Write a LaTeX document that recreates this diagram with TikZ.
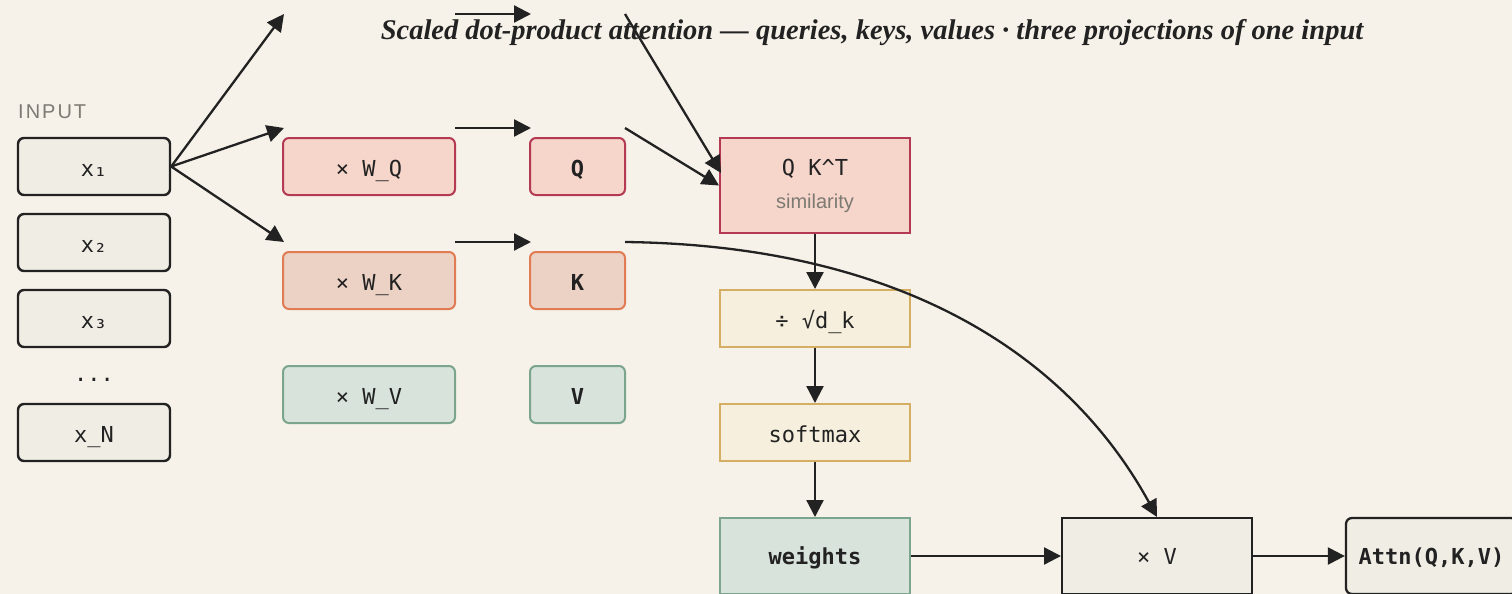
\documentclass[tikz,border=0pt]{standalone}
\usepackage{fontspec}
\setmainfont{Liberation Serif}
\setsansfont{Liberation Sans}
\setmonofont{DejaVu Sans Mono}
\usetikzlibrary{arrows.meta}
\definecolor{bg}{HTML}{F6F2E9}
\definecolor{ink}{HTML}{222222}
\definecolor{grey}{HTML}{7C7A72}
\definecolor{plain}{HTML}{F0EDE5}
\definecolor{qfill}{HTML}{F6D5CB}
\definecolor{qline}{HTML}{B33A52}
\definecolor{kfill}{HTML}{ECD2C4}
\definecolor{kline}{HTML}{E07B54}
\definecolor{vfill}{HTML}{D8E3DC}
\definecolor{vline}{HTML}{7BA58C}
\definecolor{yfill}{HTML}{F6EFDD}
\definecolor{yline}{HTML}{D4AE62}
\tikzset{
  box/.style={draw, line width=2pt, inner sep=0pt, align=center, text=ink, font=\ttfamily\fontsize{22}{24}\selectfont, text height=21pt, text depth=0.4pt},
  lowbox/.style={box, text height=17pt, text depth=1pt},
  inbox/.style={box, draw=ink, fill=plain, rounded corners=6pt, minimum width=152pt, minimum height=57pt, line width=2.4pt},
  projq/.style={box, draw=qline, fill=qfill, rounded corners=6pt, minimum height=57pt},
  projk/.style={box, draw=kline, fill=kfill, rounded corners=6pt, minimum height=57pt},
  projv/.style={box, draw=vline, fill=vfill, rounded corners=6pt, minimum height=57pt},
  opbox/.style={box, draw=yline, fill=yfill, minimum width=190pt, minimum height=57pt},
  bold/.style={font=\ttfamily\bfseries\fontsize{22}{24}\selectfont},
  arr/.style={draw=ink, line width=2.3pt, -{Triangle[length=17pt,width=17pt]}},
}
\begin{document}
\begin{tikzpicture}[x=1pt,y=-1pt]
\fill[bg] (0,0) rectangle (1512,594);
\useasboundingbox (0,0) rectangle (1512,594);

\node[font=\bfseries\itshape\fontsize{28.5}{32}\selectfont, text=ink] (title) at (872,32.5) {Scaled dot-product attention — queries, keys, values · three projections of one input};

\node[anchor=west, text=grey, font=\sffamily\fontsize{20}{24}\selectfont, inner sep=0pt] (inlabel) at (18,112) {\addfontfeature{LetterSpace=10}INPUT};

\node[inbox] (x1) at (94,166.5) {x₁};
\node[inbox] (x2) at (94,242.5) {x₂};
\node[inbox] (x3) at (94,318.5) {x₃};
\node[text=ink, font=\ttfamily\fontsize{22}{24}\selectfont] (dots) at (94,380) {...};
\node[inbox] (xN) at (94,432.5) {x\_N};

\node[projq, minimum width=172pt] (wq) at (369,166.5) {× W\_Q};
\node[projk, minimum width=172pt] (wk) at (369,280.5) {× W\_K};
\node[projv, minimum width=172pt] (wv) at (369,394.5) {× W\_V};

\node[projq, minimum width=95pt, bold] (q) at (577.5,166.5) {Q};
\node[projk, minimum width=95pt, bold] (k) at (577.5,280.5) {K};
\node[projv, minimum width=95pt, bold] (v) at (577.5,394.5) {V};

\node[box, draw=qline, fill=qfill, minimum width=190pt, minimum height=95pt] (qk) at (815,185.5) {};
\node[text=ink, font=\ttfamily\fontsize{22}{24}\selectfont] (qkt) at (815,169) {Q K\^{}T};
\node[text=grey, font=\sffamily\fontsize{20}{24}\selectfont] (sim) at (815,203) {similarity};

\node[opbox] (div) at (815,318.5) {÷ √d\_k};
\node[opbox] (soft) at (815,432.5) {softmax};
\node[lowbox, draw=vline, fill=vfill, minimum width=190pt, minimum height=76pt, bold] (w) at (815,556) {weights};
\node[lowbox, draw=ink, fill=plain, minimum width=190pt, minimum height=76pt] (mv) at (1157,556) {× V};
\node[lowbox, draw=ink, fill=plain, rounded corners=6pt, minimum width=171pt, minimum height=76pt, bold, line width=2.3pt] (attn) at (1431.5,556) {Attn(Q,K,V)};

\coordinate (a1) at (284,14);
\coordinate (a2) at (284,128);
\coordinate (a3) at (284,242);
\coordinate (b1s) at (455,14);
\coordinate (b1e) at (531,14);
\coordinate (b2s) at (455,128);
\coordinate (b2e) at (531,128);
\coordinate (b3s) at (455,242);
\coordinate (b3e) at (531,242);
\coordinate (c1s) at (625,14);
\coordinate (c1e) at (721,173);
\coordinate (c2s) at (625,128);
\coordinate (c3s) at (625,242);

\draw[arr] (x1.east) -- (a1);
\draw[arr] (x1.east) -- (a2);
\draw[arr] (x1.east) -- (a3);
\draw[arr] (b1s) -- (b1e);
\draw[arr] (b2s) -- (b2e);
\draw[arr] (b3s) -- (b3e);
\draw[arr] (c1s) -- (c1e);
\draw[arr] (c2s) -- (qk.west);
\draw[arr] (c3s) .. controls (880,245) and (1060,340) .. (mv.north);
\draw[arr] (qk.south) -- (div.north);
\draw[arr] (div.south) -- (soft.north);
\draw[arr] (soft.south) -- (w.north);
\draw[arr] (w.east) -- (mv.west);
\draw[arr] (mv.east) -- (attn.west);
\end{tikzpicture}
\end{document}
